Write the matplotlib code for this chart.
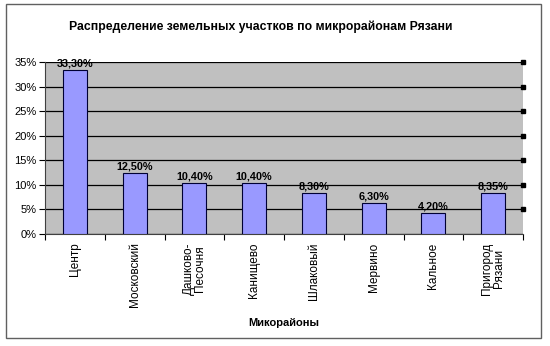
import matplotlib.pyplot as plt
from matplotlib.patches import Rectangle
from matplotlib.ticker import FuncFormatter

plt.rcParams['font.family'] = ['Liberation Sans', 'DejaVu Sans']

districts = ["Центр", "Московский", "Дашково-\nПесочня", "Канищево",
             "Шлаковый", "Мервино", "Кальное", "Пригород\nРязани"]
shares = [33.30, 12.50, 10.40, 10.40, 8.30, 6.30, 4.20, 8.35]
labels = ["33,30%", "12,50%", "10,40%", "10,40%", "8,30%", "6,30%", "4,20%", "8,35%"]
yticks = [0, 5, 10, 15, 20, 25, 30, 35]

fig = plt.figure(figsize=(5.5, 3.46), dpi=100)
fig.patch.set_facecolor('white')

# frame around the whole chart
fig.add_artist(Rectangle((6 / 550, 1 - 338 / 346), 535 / 550, 334 / 346,
                         transform=fig.transFigure, fill=False,
                         edgecolor='#606060', linewidth=1.0))

ax = fig.add_axes([45 / 550, 1 - 234 / 346, 478 / 550, 172 / 346])
ax.set_facecolor('#C0C0C0')

x = list(range(len(districts)))
ax.bar(x, shares, width=0.4, color='#9999FF', edgecolor='#000033', linewidth=0.8, zorder=3)
for xi, v, t in zip(x, shares, labels):
    ax.text(xi, v + 0.3, t, ha='center', va='bottom', fontsize=7.8,
            fontweight='bold', zorder=4)

ax.set_xlim(-0.5, len(districts) - 0.5)
ax.set_ylim(0, 35)
ax.set_yticks(yticks)
ax.yaxis.set_major_formatter(FuncFormatter(lambda v, p: f"{int(v)}%"))
ax.grid(axis='y', color='black', linewidth=0.9, zorder=1)

# small handles at the right end of gridlines
ax.plot([len(districts) - 0.5] * len(yticks[1:]), yticks[1:], linestyle='none',
        marker='s', markersize=3, color='black', clip_on=False, zorder=5)

# category ticks sit on the boundaries, labels in the middle
ax.set_xticks([i - 0.5 for i in range(len(districts) + 1)])
ax.set_xticklabels([])
ax.set_xticks(x, minor=True)
ax.set_xticklabels(districts, minor=True, rotation=90, fontsize=8.5, va='top',
                   linespacing=0.95)
ax.tick_params(axis='x', which='minor', length=0, pad=6)
ax.tick_params(axis='x', which='major', length=4, direction='out')
ax.tick_params(axis='y', length=4, direction='out', labelsize=8, pad=2)

for side in ['top', 'right']:
    ax.spines[side].set_visible(False)
ax.spines['left'].set_color('#404040')
ax.spines['bottom'].set_color('#404040')

ax.set_xlabel("Микорайоны", fontsize=8, fontweight='bold', labelpad=8)
fig.text(261 / 550, 1 - 27 / 346, "Распределение земельных участков по микрорайонам Рязани",
         ha='center', va='center', fontsize=8.8, fontweight='bold')

fig.savefig('out.png', dpi=100)
